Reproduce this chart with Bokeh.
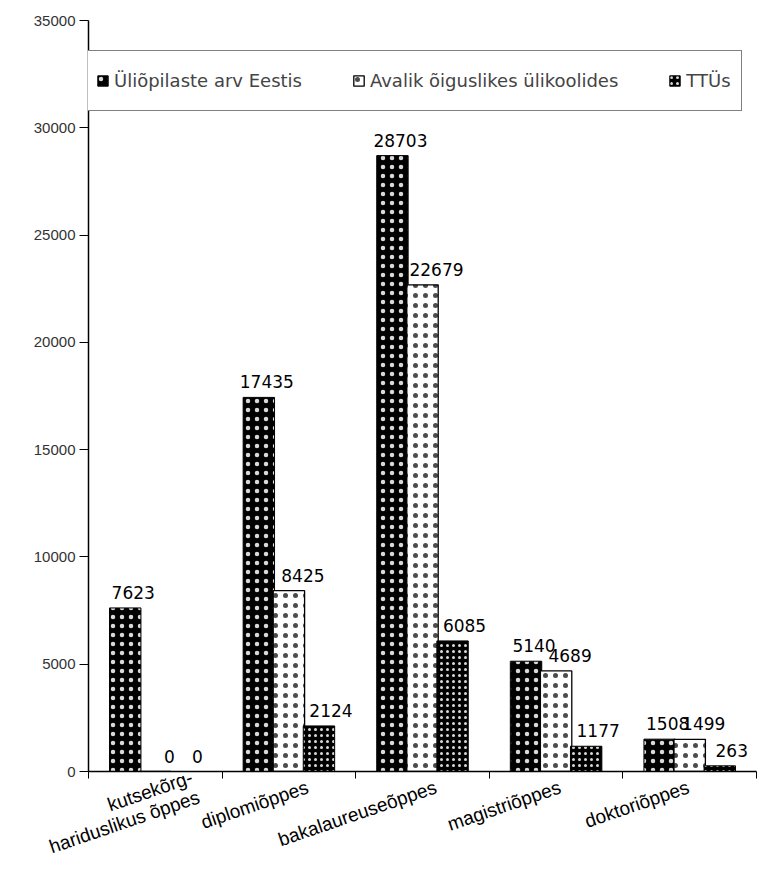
from bokeh.plotting import figure
from bokeh.models import (ColumnDataSource, Range1d, FixedTicker, LinearAxis,
                          LabelSet, Legend, LegendItem)
from bokeh.core.properties import value
from bokeh.transform import dodge
from bokeh.embed import file_html
from bokeh.resources import INLINE

categories = ["kutsekõrg-\nhariduslikus õppes", "diplomiõppes", "bakalaureuseõppes",
              "magistriõppes", "doktoriõppes"]
series_names = ["Üliõpilaste arv Eestis", "Avalik õiguslikes ülikoolides", "TTÜs"]
eestis = [7623, 17435, 28703, 5140, 1508]
avalik = [0, 8425, 22679, 4689, 1499]
ttu = [0, 2124, 6085, 1177, 263]
y_ticks = [0, 5000, 10000, 15000, 20000, 25000, 30000, 35000]
grid_ticks = [5000, 10000, 15000, 20000, 25000]

# layout tweak for the rotated category labels (fraction of a group width)
label_dx = [0.30, 0.14, 0.10, 0.03, -0.01]

pos = [i + 0.5 for i in range(len(categories))]
bounds = list(range(len(categories) + 1))
label_pos = [pp + d for pp, d in zip(pos, label_dx)]
src = ColumnDataSource(dict(
    pos=pos,
    eestis=eestis, avalik=avalik, ttu=ttu,
    eestis_l=[str(v) for v in eestis],
    avalik_l=[str(v) for v in avalik],
    ttu_l=[str(v) for v in ttu],
))

FONT = "Liberation Sans"

p = figure(width=758, height=880, output_backend="svg", toolbar_location=None,
           x_range=Range1d(0, len(categories)), y_range=Range1d(0, 35000),
           min_border_left=88, min_border_right=2, min_border_top=20,
           min_border_bottom=105, x_axis_type=None, y_axis_type=None)
p.outline_line_color = None
p.background_fill_color = "white"

# y axis
yaxis = LinearAxis(ticker=FixedTicker(ticks=y_ticks))
yaxis.axis_line_color = "black"
yaxis.axis_line_width = 1.5
yaxis.major_tick_line_color = "black"
yaxis.major_tick_out = 9
yaxis.major_tick_in = 0
yaxis.minor_tick_line_color = None
yaxis.major_label_text_font = FONT
yaxis.major_label_text_font_size = "15px"
yaxis.major_label_text_color = "#333333"
yaxis.major_label_standoff = 4
p.add_layout(yaxis, "left")

# x axis with ticks at group boundaries (no labels)
xaxis_t = LinearAxis(ticker=FixedTicker(ticks=bounds))
xaxis_t.major_label_overrides = {b: " " for b in bounds}
xaxis_t.axis_line_color = "black"
xaxis_t.axis_line_width = 1.5
xaxis_t.major_tick_line_color = "black"
xaxis_t.major_tick_out = 7
xaxis_t.major_tick_in = 0
xaxis_t.minor_tick_line_color = None
xaxis_t.major_label_text_font_size = "2px"
xaxis_t.major_label_standoff = 0
p.add_layout(xaxis_t, "below")

# x axis carrying the rotated category labels
xaxis_l = LinearAxis(ticker=FixedTicker(ticks=label_pos))
xaxis_l.major_label_overrides = {lp: c for lp, c in zip(label_pos, categories)}
xaxis_l.axis_line_color = None
xaxis_l.major_tick_line_color = None
xaxis_l.minor_tick_line_color = None
xaxis_l.major_tick_out = 0
xaxis_l.major_tick_in = 0
xaxis_l.major_label_orientation = 0.33
xaxis_l.major_label_text_font = FONT
xaxis_l.major_label_text_font_size = "19px"
xaxis_l.major_label_text_color = "black"
xaxis_l.major_label_text_line_height = 1.0
xaxis_l.major_label_standoff = 3
p.add_layout(xaxis_l, "below")

p.xgrid.visible = False
p.ygrid.ticker = FixedTicker(ticks=grid_ticks)
p.ygrid.grid_line_color = "black"
p.ygrid.grid_line_width = 1.3

W = 0.235
OFF = 0.225
r1 = p.vbar(x=dodge("pos", -OFF), top="eestis", width=W, source=src,
            fill_color="black", line_color="black",
            hatch_pattern="dot", hatch_color="white", hatch_scale=9, hatch_alpha=0.85)
r2 = p.vbar(x=dodge("pos", 0), top="avalik", width=W, source=src,
            fill_color="white", line_color="black", line_width=1.3,
            hatch_pattern="dot", hatch_color="black", hatch_scale=10, hatch_alpha=0.7)
r3 = p.vbar(x=dodge("pos", OFF), top="ttu", width=W, source=src,
            fill_color="black", line_color="black",
            hatch_pattern="dot", hatch_color="white", hatch_scale=6, hatch_alpha=0.85)

for col, off, xo in (("eestis", -OFF, 8), ("avalik", 0, 14), ("ttu", OFF, 12)):
    ls = LabelSet(x=dodge("pos", off), y=col, text=col + "_l", source=src,
                  text_align="center", text_baseline="bottom", y_offset=9, x_offset=xo,
                  text_font=value("DejaVu Sans"), text_font_size="17px",
                  text_color="black")
    p.add_layout(ls)

legend = Legend(items=[LegendItem(label=series_names[0], renderers=[r1]),
                       LegendItem(label=series_names[1], renderers=[r2]),
                       LegendItem(label=series_names[2], renderers=[r3])],
                orientation="horizontal", location=(-3, 660))
legend.border_line_color = "black"
legend.border_line_width = 1.5
legend.background_fill_color = "white"
legend.background_fill_alpha = 1
legend.label_text_font = "DejaVu Sans"
legend.label_text_font_size = "18px"
legend.label_height = 39
legend.glyph_width = 13
legend.glyph_height = 13
legend.label_standoff = 5
legend.spacing = 50
legend.padding = 10
legend.margin = 0
p.add_layout(legend, "center")

open("out.html", "w").write(file_html(p, INLINE))
